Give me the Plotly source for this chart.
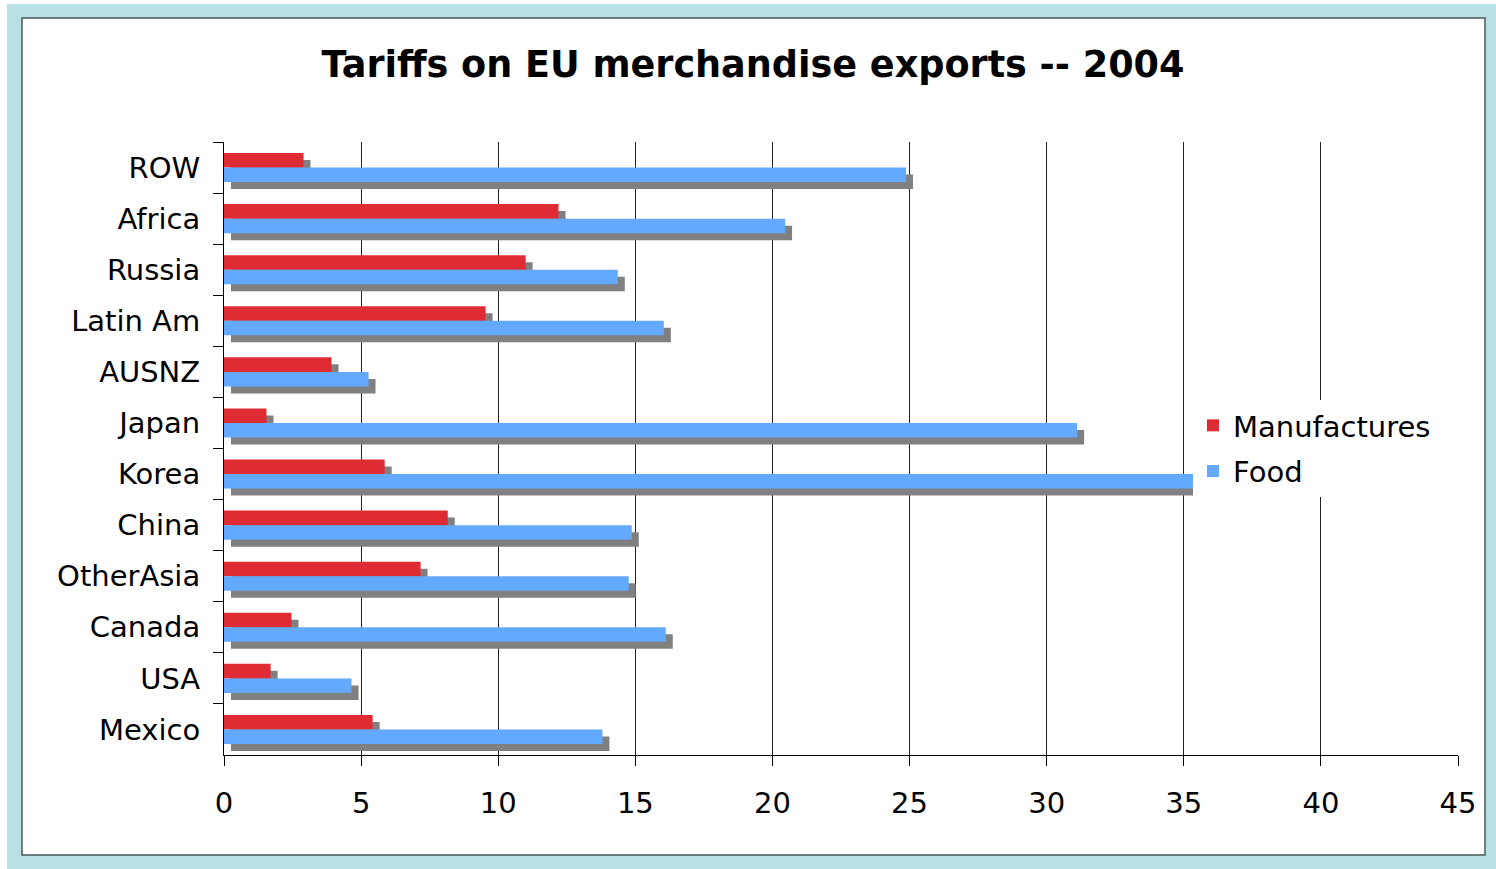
import plotly.graph_objects as go

# ---- data ----
categories = ["ROW", "Africa", "Russia", "Latin Am", "AUSNZ", "Japan",
              "Korea", "China", "OtherAsia", "Canada", "USA", "Mexico"]
manufactures = [2.9, 12.2, 11.0, 9.54, 3.92, 1.55, 5.86, 8.16, 7.17, 2.46, 1.7, 5.42]
food = [24.87, 20.46, 14.36, 16.04, 5.27, 31.11, 35.34, 14.87, 14.76, 16.11, 4.65, 13.8]
x_ticks = [0, 5, 10, 15, 20, 25, 30, 35, 40, 45]

title_text = "Tariffs on EU merchandise exports -- 2004"

RED = "#DF2C34"
BLUE = "#63A9FF"
SHADOW = "#808080"
FONT = "DejaVu Sans"

W, H = 1496, 869
ML, MR, MT, MB = 224, 38, 142, 114
PW = W - ML - MR
PH = H - MT - MB

XMAX = 45
SHIFT_PX = 7
dx = SHIFT_PX * XMAX / PW
dy = SHIFT_PX * len(categories) / PH


def px_x(p):
    return (p - ML) / PW


def px_y(p):
    return (H - MB - p) / PH


fig = go.Figure()

# shadows (main axes, shifted)
for vals in (manufactures, food):
    fig.add_trace(go.Bar(y=categories, x=vals, orientation="h",
                         marker=dict(color=SHADOW, line=dict(width=0)),
                         showlegend=False, hoverinfo="skip",
                         xaxis="x", yaxis="y"))

# real bars (overlay axes)
fig.add_trace(go.Bar(y=categories, x=manufactures, orientation="h", name="Manufactures",
                     legendgroup="m",
                     marker=dict(color=RED, line=dict(width=0)),
                     xaxis="x2", yaxis="y2"))
fig.add_trace(go.Bar(y=categories, x=food, orientation="h", name="Food",
                     legendgroup="f",
                     marker=dict(color=BLUE, line=dict(width=0)),
                     xaxis="x2", yaxis="y2"))

shapes = [
    dict(type="rect", xref="paper", yref="paper",
         x0=px_x(7), x1=px_x(1496), y0=px_y(869), y1=px_y(4),
         fillcolor="#B9E0E3", line=dict(width=0), layer="below"),
    dict(type="rect", xref="paper", yref="paper",
         x0=px_x(22), x1=px_x(1485), y0=px_y(855), y1=px_y(18),
         fillcolor="white", line=dict(color="#4A5858", width=1.5), layer="below"),
]

fig.update_layout(
    width=W, height=H,
    margin=dict(l=ML, r=MR, t=MT, b=MB, pad=0),
    paper_bgcolor="white",
    plot_bgcolor="rgba(0,0,0,0)",
    barmode="group",
    bargap=0.43,
    bargroupgap=0,
    font=dict(family=FONT, size=29, color="black"),
    title=dict(text="<b>" + title_text + "</b>", x=753 / W, xanchor="center",
               y=1 - 64 / H, yanchor="middle", yref="container", xref="container",
               font=dict(family=FONT, size=36.6, color="black")),
    xaxis=dict(range=[-dx, XMAX - dx], showgrid=False, showticklabels=False,
               showline=False, zeroline=False, ticks="", fixedrange=True),
    yaxis=dict(type="category", categoryorder="array", categoryarray=categories,
               range=[len(categories) - 0.5 - dy, -0.5 - dy],
               showgrid=False, showticklabels=False, showline=False,
               zeroline=False, ticks=""),
    xaxis2=dict(overlaying="x", anchor="y2", side="bottom",
                range=[0, XMAX], tickvals=x_ticks, ticktext=[str(t) for t in x_ticks],
                showgrid=True, gridcolor="#222222", gridwidth=1,
                showline=True, linecolor="black", linewidth=1,
                ticks="outside", ticklen=10, tickcolor="black",
                zeroline=False, ticklabelstandoff=12,
                tickfont=dict(family=FONT, size=29, color="black")),
    yaxis2=dict(overlaying="y", anchor="x2", side="left", type="category",
                categoryorder="array", categoryarray=categories,
                range=[len(categories) - 0.5, -0.5],
                showgrid=False, showline=True, linecolor="black", linewidth=1,
                ticks="outside", ticklen=10, tickcolor="black", tickson="boundaries",
                zeroline=False, ticklabelstandoff=17,
                tickfont=dict(family=FONT, size=29, color="black")),
    legend=dict(x=px_x(1193), y=px_y(400), xanchor="left", yanchor="top",
                bgcolor="white", borderwidth=0,
                font=dict(family=FONT, size=29, color="black"),
                traceorder="grouped", tracegroupgap=5),
    shapes=shapes,
    showlegend=True,
)

fig.write_html("out.html", config={"displayModeBar": False},
               post_script="document.body.style.margin='0';")
